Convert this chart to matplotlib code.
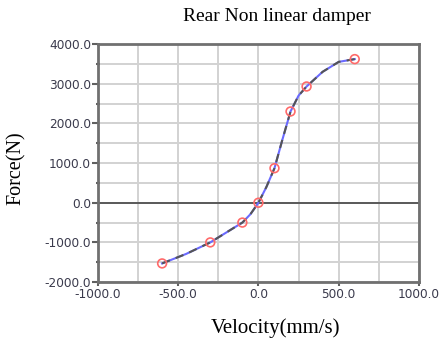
import numpy as np
import matplotlib.pyplot as plt
from matplotlib.ticker import MultipleLocator, FormatStrFormatter

# measured damper points (markers)
vel_pts = [-600, -300, -100, 0, 100, 200, 300, 600]
force_pts = [-1530, -1000, -500, 0, 870, 2300, 2930, 3620]

# smooth curve through the points
vel_curve = [-600, -450, -300, -200, -100, -50, 0, 50, 100, 150, 200, 250, 300, 400, 500, 600]
force_curve = [-1530, -1290, -1000, -750, -500, -290, 0, 400, 870, 1600, 2300, 2700, 2930, 3300, 3550, 3620]

fig = plt.figure(figsize=(4.41, 3.44), dpi=100)
ax = fig.add_axes([0.222, 0.180, 0.728, 0.692])

ax.set_xlim(-1000, 1000)
ax.set_ylim(-2000, 4000)

ax.xaxis.set_major_locator(MultipleLocator(500))
ax.xaxis.set_minor_locator(MultipleLocator(250))
ax.yaxis.set_major_locator(MultipleLocator(1000))
ax.yaxis.set_minor_locator(MultipleLocator(500))
ax.xaxis.set_major_formatter(FormatStrFormatter("%.1f"))
ax.yaxis.set_major_formatter(FormatStrFormatter("%.1f"))

ax.grid(True, which="both", color="#d2d2d2", linewidth=1.4)
ax.set_axisbelow(True)
ax.axhline(0, color="#505050", linewidth=1.3, zorder=2)

for s in ax.spines.values():
    s.set_color("#707070")
    s.set_linewidth(2)

ax.tick_params(which="both", direction="out", color="#606060", width=1.5,
               labelsize=8.7, labelcolor="#3a3a4c", pad=1)
ax.tick_params(axis="x", which="major", length=3)
ax.tick_params(axis="y", which="major", length=4)
ax.tick_params(axis="y", which="minor", length=3, direction="inout")
ax.tick_params(axis="x", which="minor", length=0)

ax.plot(vel_curve, force_curve, color="#6a6aff", linewidth=1.5, zorder=3)
ax.plot(vel_curve, force_curve, color="#555555", linewidth=1.5,
        linestyle=(0, (4, 3)), zorder=4)
ax.scatter(vel_pts, force_pts, s=40, facecolors="none", edgecolors="#ff6a6a",
           linewidths=1.2, zorder=5)

serif = ["Liberation Serif", "DejaVu Serif"]
fig.text(0.629, 0.951, "Rear Non linear damper", family=serif, fontsize=14,
         ha="center", va="center")
fig.text(0.624, 0.047, "Velocity(mm/s)", family=serif, fontsize=15,
         ha="center", va="center")
fig.text(0.036, 0.512, "Force(N)", family=serif, fontsize=14.5,
         ha="center", va="center", rotation=90)

fig.savefig("out.png", dpi=100)
